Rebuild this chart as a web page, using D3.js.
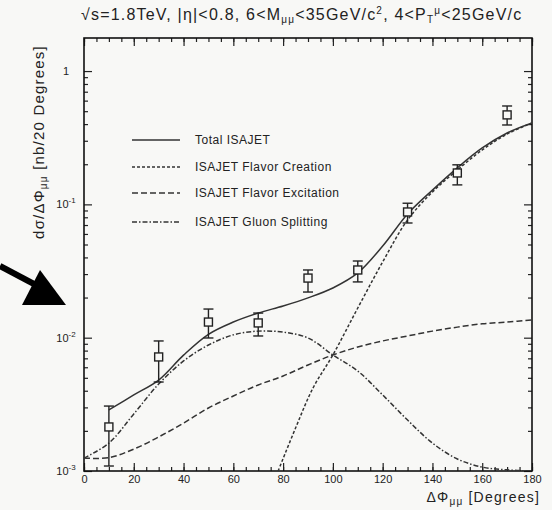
<!doctype html>
<html>
<head>
	<meta charset="utf-8">
	<script src="https://d3js.org/d3.v7.min.js"></script>
	<style>
		body { margin: 0; background: #f8f8f6; }
		svg { font-family: "Liberation Sans", Arial, sans-serif; }
		.frame { fill: none; stroke: #111; stroke-width: 1.6px; }
		.tick line { stroke: #222; stroke-width: 1.2px; }
		.curve { fill: none; stroke: #333; stroke-width: 1.5px; }
	</style>
</head>
<body>
<script>

	// measured points (deg, dsigma)
	var dataX   = [10, 30, 50, 70, 90, 110, 130, 150, 170];
	var dataY   = [2.14e-3, 7.17e-3, 1.31e-2, 1.29e-2, 2.80e-2, 3.22e-2, 8.77e-2, 0.172, 0.469];
	var dataLo  = [1.09e-3, 4.65e-3, 9.95e-3, 1.03e-2, 2.20e-2, 2.62e-2, 7.25e-2, 0.140, 0.394];
	var dataHi  = [3.07e-3, 9.45e-3, 1.64e-2, 1.53e-2, 3.22e-2, 3.76e-2, 0.102, 0.198, 0.547];

	// ISAJET curves
	var totalX  = [10, 20, 30, 40, 50, 60, 70, 80, 90, 100, 110, 120, 130, 140, 150, 160, 170, 180];
	var totalY  = [2.87e-3, 3.72e-3, 4.81e-3, 7.40e-3, 1.06e-2, 1.31e-2, 1.53e-2, 1.73e-2, 1.99e-2, 2.36e-2,
	               3.06e-2, 4.87e-2, 8.47e-2, 0.128, 0.188, 0.265, 0.343, 0.408];

	var creatX  = [78, 85, 92, 100, 110, 120, 130, 140, 150, 160, 170, 180];
	var creatY  = [1.0e-3, 2.10e-3, 4.19e-3, 7.42e-3, 1.67e-2, 3.70e-2, 7.64e-2, 0.124, 0.181, 0.256, 0.337, 0.408];

	var excitX  = [0, 10, 20, 30, 40, 50, 60, 70, 80, 90, 100, 110, 120, 130, 140, 150, 160, 170, 180];
	var excitY  = [1.25e-3, 1.26e-3, 1.46e-3, 1.80e-3, 2.29e-3, 2.97e-3, 3.65e-3, 4.42e-3, 5.16e-3, 6.24e-3,
	               7.42e-3, 8.51e-3, 9.45e-3, 1.03e-2, 1.12e-2, 1.20e-2, 1.27e-2, 1.31e-2, 1.36e-2];

	var gluonX  = [0, 10, 20, 30, 40, 50, 60, 70, 80, 90, 100, 110, 120, 130, 140, 150, 160, 170, 180];
	var gluonY  = [1.25e-3, 1.62e-3, 2.68e-3, 4.49e-3, 6.69e-3, 8.81e-3, 1.05e-2, 1.12e-2, 1.10e-2, 9.95e-3,
	               7.42e-3, 5.62e-3, 3.72e-3, 2.41e-3, 1.62e-3, 1.23e-3, 1.07e-3, 1.02e-3, 1.0e-3];

	var xTicks = [0, 20, 40, 60, 80, 100, 120, 140, 160, 180];
	var yTicks = [1e-3, 1e-2, 1e-1, 1];
	var yTickExp = ["-3", "-2", "-1", ""];

	var legendNames = ["Total ISAJET", "ISAJET Flavor Creation", "ISAJET Flavor Excitation", "ISAJET Gluon Splitting"];
	var dashes = ["none", "3,2", "6,3", "5,2,1.5,2"];

	var margin = {top: 38, right: 20, bottom: 39, left: 84};
	var width = 552 - margin.left - margin.right;
	var height = 510 - margin.top - margin.bottom;

	var root = d3.select("body").append("svg")
		.attr("width", 552)
		.attr("height", 510);

	var svg = root.append("g")
		.attr("transform", "translate(" + margin.left + "," + margin.top + ")");

	var xScale = d3.scaleLinear().domain([0, 180]).range([0, width]);
	var yScale = d3.scaleLog().domain([1e-3, 1.77]).range([height, 0]);

	svg.append("clipPath").attr("id", "clip")
		.append("rect").attr("width", width).attr("height", height);

	// minor ticks
	var yMinor = [];
	yTicks.slice(0, 3).forEach(function(d) {
		for (var k = 2; k <= 9; k++) yMinor.push(d * k);
	});
	yMinor = yMinor.filter(function(v) { return v <= 1.77; });
	var xMinor = d3.range(0, 181, 5);

	svg.append("g").attr("transform", "translate(0," + height + ")")
		.call(d3.axisBottom(xScale).tickValues(xMinor).tickSizeInner(-4).tickSizeOuter(0).tickFormat(""));
	svg.append("g")
		.call(d3.axisTop(xScale).tickValues(xMinor).tickSizeInner(-4).tickSizeOuter(0).tickFormat(""));
	svg.append("g")
		.call(d3.axisLeft(yScale).tickValues(yMinor).tickSizeInner(-4).tickSizeOuter(0).tickFormat(""));
	svg.append("g").attr("transform", "translate(" + width + ",0)")
		.call(d3.axisRight(yScale).tickValues(yMinor).tickSizeInner(-4).tickSizeOuter(0).tickFormat(""));

	// major ticks
	var xAxis = svg.append("g").attr("transform", "translate(0," + height + ")")
		.call(d3.axisBottom(xScale).tickValues(xTicks).tickSizeInner(-8).tickSizeOuter(0).tickPadding(4));
	xAxis.selectAll("text").style("font-size", "11px").style("fill", "#222");
	svg.append("g")
		.call(d3.axisTop(xScale).tickValues(xTicks).tickSizeInner(-8).tickSizeOuter(0).tickFormat(""));
	svg.append("g")
		.call(d3.axisLeft(yScale).tickValues(yTicks).tickSizeInner(-8).tickSizeOuter(0).tickFormat(""));
	svg.append("g").attr("transform", "translate(" + width + ",0)")
		.call(d3.axisRight(yScale).tickValues(yTicks).tickSizeInner(-8).tickSizeOuter(0).tickFormat(""));
	svg.selectAll(".domain").remove();

	// y tick labels (10^n)
	yTicks.forEach(function(v, i) {
		var t = svg.append("text")
			.attr("x", -18)
			.attr("y", yScale(v) + 4)
			.attr("text-anchor", "middle")
			.style("font-size", "11px")
			.style("fill", "#222");
		if (yTickExp[i] == "") {
			t.text("1");
		} else {
			t.append("tspan").text("10");
			t.append("tspan").attr("dy", -5).style("font-size", "8px").text(yTickExp[i]);
		}
	});

	svg.append("rect").attr("class", "frame").attr("width", width).attr("height", height);

	// curves
	var line = d3.line()
		.x(function(d) { return xScale(d[0]); })
		.y(function(d) { return yScale(d[1]); })
		.curve(d3.curveCatmullRom);

	var curves = [d3.zip(totalX, totalY), d3.zip(creatX, creatY), d3.zip(excitX, excitY), d3.zip(gluonX, gluonY)];
	var cg = svg.append("g").attr("clip-path", "url(#clip)");
	curves.forEach(function(c, i) {
		cg.append("path")
			.datum(c)
			.attr("class", "curve")
			.style("stroke-dasharray", dashes[i])
			.attr("d", line);
	});

	// data points with error bars
	var pts = svg.append("g").selectAll("g")
		.data(dataX.map(function(x, i) { return {x: x, y: dataY[i], lo: dataLo[i], hi: dataHi[i]}; }))
		.enter().append("g")
		.attr("transform", function(d) { return "translate(" + xScale(d.x) + ",0)"; })
		.style("stroke", "#222").style("stroke-width", 1.4).style("fill", "none");
	pts.append("line").attr("y1", function(d) { return yScale(d.hi); }).attr("y2", function(d) { return yScale(d.lo); });
	pts.append("line").attr("x1", -5).attr("x2", 5)
		.attr("y1", function(d) { return yScale(d.hi); }).attr("y2", function(d) { return yScale(d.hi); });
	pts.append("line").attr("x1", -5).attr("x2", 5)
		.attr("y1", function(d) { return yScale(d.lo); }).attr("y2", function(d) { return yScale(d.lo); });
	pts.append("rect").attr("x", -4).attr("width", 8).attr("height", 8)
		.attr("y", function(d) { return yScale(d.y) - 4; })
		.style("fill", "#f8f8f6");

	// legend
	var leg = svg.append("g").attr("transform", "translate(48,102)");
	legendNames.forEach(function(name, i) {
		var yy = [0, 27, 53, 82][i];
		leg.append("line")
			.attr("x1", 0).attr("x2", 48).attr("y1", yy).attr("y2", yy)
			.attr("class", "curve")
			.style("stroke-dasharray", dashes[i]);
		leg.append("text")
			.attr("x", 63).attr("y", yy + 4)
			.style("font-size", "12px")
			.style("letter-spacing", "0.5px")
			.style("fill", "#222")
			.text(name);
	});

	// title
	var title = root.append("text")
		.attr("x", 81).attr("y", 20)
		.style("font-size", "16px")
		.style("letter-spacing", "1.2px")
		.style("fill", "#222");
	title.append("tspan").text("\u221As=1.8TeV, |\u03B7|<0.8, 6<M");
	title.append("tspan").attr("dy", 3).style("font-size", "10px").text("\u03BC\u03BC");
	title.append("tspan").attr("dy", -3).text("<35GeV/c");
	title.append("tspan").attr("dy", -6).style("font-size", "10px").text("2");
	title.append("tspan").attr("dy", 6).text(", 4<P");
	title.append("tspan").attr("dy", 3).style("font-size", "10px").text("T");
	title.append("tspan").attr("dy", -9).style("font-size", "10px").text("\u03BC");
	title.append("tspan").attr("dy", 6).text("<25GeV/c");

	// x axis label
	var xl = root.append("text")
		.attr("x", 540).attr("y", 502)
		.attr("text-anchor", "end")
		.style("font-size", "14px")
		.style("letter-spacing", "1.2px")
		.style("fill", "#222");
	xl.append("tspan").text("\u0394\u03A6");
	xl.append("tspan").attr("dy", 3).style("font-size", "10px").text("\u03BC\u03BC");
	xl.append("tspan").attr("dy", -3).text(" [Degrees]");

	// y axis label
	var yl = root.append("text")
		.attr("transform", "translate(44,142) rotate(-90)")
		.attr("text-anchor", "middle")
		.style("font-size", "15px")
		.style("letter-spacing", "1.2px")
		.style("fill", "#222");
	yl.append("tspan").text("d\u03C3/\u0394\u03A6");
	yl.append("tspan").attr("dy", 3).style("font-size", "10px").text("\u03BC\u03BC");
	yl.append("tspan").attr("dy", -3).text(" [nb/20 Degrees]");

	// big arrow on the left
	root.append("line")
		.attr("x1", 0).attr("y1", 266).attr("x2", 34).attr("y2", 284)
		.style("stroke", "#000").style("stroke-width", 6);
	root.append("path")
		.attr("d", "M40,270 L22,305 L66,305 Z")
		.style("fill", "#000");

</script>
</body>
</html>
